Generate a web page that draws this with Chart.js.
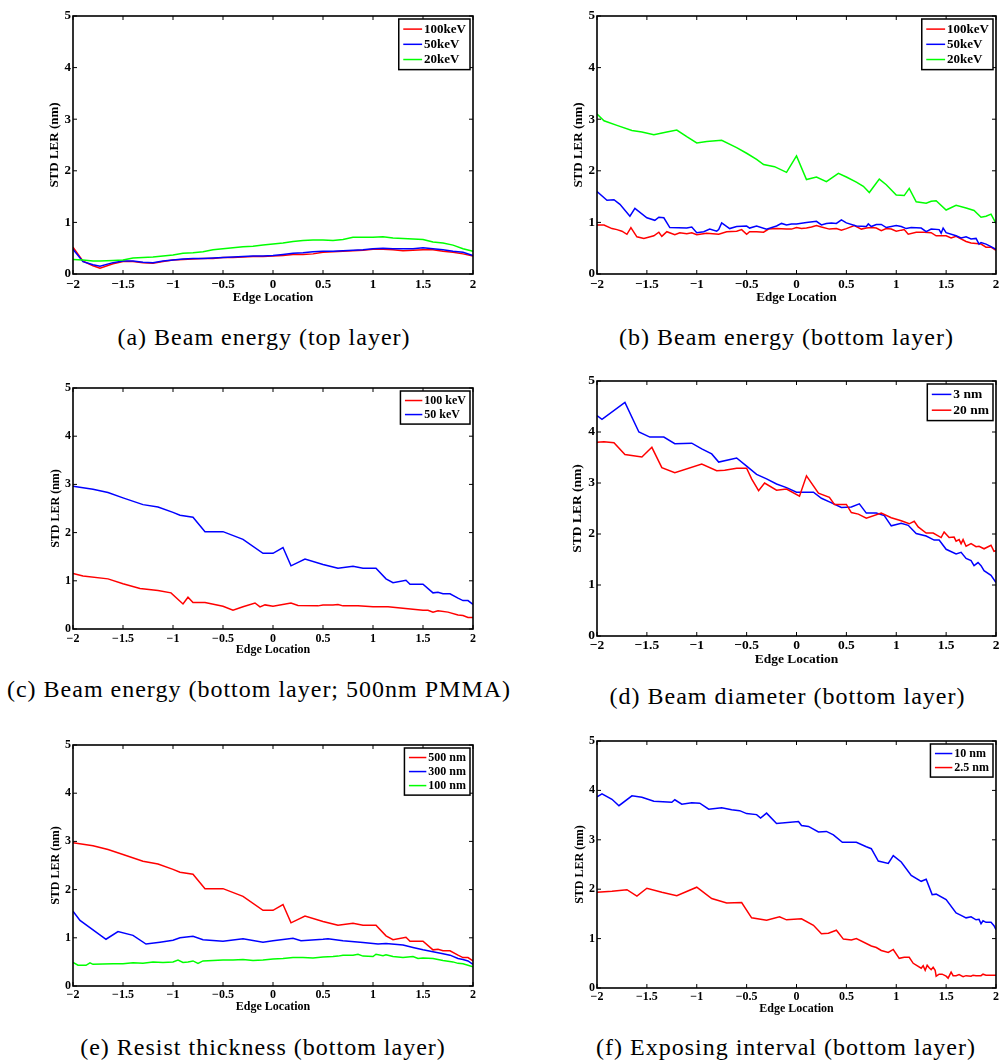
<!DOCTYPE html>
<html><head><meta charset="utf-8">
<script src="https://cdn.jsdelivr.net/npm/chart.js@4.4.1/dist/chart.umd.min.js"></script>
<style>
html,body{margin:0;padding:0;background:#fff;width:999px;height:1063px;overflow:hidden;}
#root{position:relative;width:999px;height:1063px;overflow:hidden;}
canvas{position:absolute;}
.cap{position:absolute;font-family:'Liberation Serif','DejaVu Serif';font-size:24px;line-height:24px;letter-spacing:1px;white-space:nowrap;color:#000;transform:translateX(-50%);}
</style></head><body>
<div id="root"></div>
<script>
// ---------- DATA ----------
// (a) Beam energy (top layer)
const aX = [-2,-1.9,-1.8,-1.73,-1.6,-1.5,-1.4,-1.3,-1.2,-1.1,-1,-0.9,-0.8,-0.7,-0.6,-0.5,-0.4,-0.3,-0.2,-0.1,0,0.1,0.2,0.3,0.4,0.5,0.6,0.7,0.8,0.9,1,1.1,1.2,1.3,1.4,1.5,1.6,1.7,1.8,1.9,2];
const aRed   = [0.52,0.25,0.16,0.11,0.20,0.24,0.24,0.22,0.21,0.24,0.27,0.28,0.29,0.30,0.30,0.32,0.32,0.33,0.34,0.34,0.35,0.36,0.38,0.38,0.39,0.42,0.43,0.44,0.45,0.46,0.48,0.48,0.47,0.45,0.46,0.47,0.47,0.44,0.42,0.39,0.35];
const aBlue  = [0.48,0.24,0.18,0.15,0.22,0.25,0.25,0.23,0.22,0.25,0.27,0.29,0.30,0.30,0.31,0.32,0.33,0.34,0.35,0.35,0.36,0.38,0.40,0.41,0.43,0.44,0.44,0.45,0.46,0.47,0.49,0.50,0.49,0.49,0.49,0.51,0.49,0.47,0.44,0.42,0.36];
const aGreen = [0.28,0.27,0.25,0.25,0.26,0.27,0.31,0.32,0.33,0.35,0.37,0.40,0.41,0.43,0.47,0.49,0.51,0.53,0.54,0.56,0.58,0.60,0.63,0.65,0.66,0.66,0.65,0.67,0.71,0.71,0.71,0.72,0.70,0.69,0.68,0.67,0.62,0.60,0.56,0.49,0.44];

// (b) Beam energy (bottom layer)
const bGreenX = [-2,-1.93,-1.8,-1.65,-1.55,-1.43,-1.3,-1.2,-1.1,-1,-0.9,-0.75,-0.6,-0.5,-0.4,-0.33,-0.22,-0.1,0,0.1,0.2,0.3,0.42,0.5,0.6,0.67,0.73,0.83,0.9,1,1.08,1.13,1.2,1.3,1.35,1.4,1.5,1.6,1.7,1.78,1.85,1.9,1.95,2];
const bGreen  = [3.10,2.97,2.88,2.78,2.75,2.70,2.75,2.79,2.66,2.54,2.57,2.59,2.45,2.34,2.22,2.12,2.08,1.97,2.29,1.83,1.88,1.79,1.95,1.88,1.78,1.70,1.58,1.84,1.73,1.53,1.52,1.66,1.40,1.37,1.41,1.42,1.24,1.33,1.28,1.23,1.10,1.12,1.16,0.98];
const bBlueX = [-2,-1.9,-1.83,-1.77,-1.67,-1.62,-1.5,-1.42,-1.38,-1.33,-1.27,-1.1,-1.05,-1,-0.93,-0.87,-0.8,-0.78,-0.75,-0.67,-0.6,-0.5,-0.47,-0.4,-0.3,-0.2,-0.15,-0.1,-0.05,0,0.1,0.2,0.25,0.3,0.35,0.4,0.45,0.5,0.6,0.7,0.72,0.75,0.8,0.85,0.9,1,1.05,1.1,1.15,1.25,1.3,1.35,1.43,1.45,1.47,1.5,1.6,1.65,1.7,1.75,1.8,1.83,1.85,1.9,1.95,2];
const bBlue  = [1.60,1.43,1.44,1.35,1.12,1.27,1.09,1.04,1.10,1.09,0.90,0.89,0.91,0.80,0.82,0.87,0.83,0.86,0.99,0.88,0.92,0.93,0.89,0.93,0.87,0.93,0.98,0.95,0.97,0.97,1.00,1.02,0.95,0.98,0.99,0.98,1.05,0.99,0.93,0.92,0.97,0.92,0.96,0.96,0.90,0.94,0.92,0.88,0.90,0.89,0.82,0.87,0.86,0.79,0.89,0.80,0.74,0.70,0.72,0.68,0.69,0.58,0.61,0.58,0.53,0.48];
const bRedX = [-2,-1.93,-1.85,-1.8,-1.75,-1.7,-1.66,-1.6,-1.53,-1.43,-1.38,-1.35,-1.3,-1.22,-1.17,-1.1,-1.05,-1,-0.9,-0.78,-0.7,-0.6,-0.55,-0.5,-0.47,-0.4,-0.33,-0.28,-0.2,-0.1,-0.05,0,0.05,0.1,0.15,0.2,0.25,0.33,0.4,0.45,0.5,0.58,0.65,0.7,0.75,0.8,0.85,0.9,0.95,1,1.05,1.08,1.12,1.2,1.28,1.35,1.4,1.5,1.55,1.6,1.7,1.75,1.8,1.85,1.9,1.95,2];
const bRed  = [0.95,0.95,0.88,0.86,0.83,0.77,0.90,0.72,0.69,0.74,0.81,0.73,0.82,0.76,0.80,0.78,0.80,0.76,0.79,0.77,0.82,0.83,0.86,0.77,0.82,0.82,0.81,0.87,0.88,0.87,0.87,0.90,0.88,0.89,0.91,0.94,0.91,0.87,0.88,0.85,0.88,0.94,0.87,0.89,0.90,0.89,0.84,0.88,0.87,0.83,0.85,0.86,0.77,0.81,0.81,0.80,0.74,0.74,0.70,0.73,0.63,0.60,0.59,0.58,0.52,0.52,0.46];

// (c) Beam energy (bottom layer; 500nm PMMA)
const cRedX = [-2,-1.9,-1.65,-1.5,-1.33,-1.15,-1.02,-0.9,-0.85,-0.8,-0.68,-0.5,-0.4,-0.3,-0.18,-0.13,-0.08,0,0.18,0.25,0.45,0.5,0.6,0.65,0.7,0.85,1,1.15,1.3,1.4,1.5,1.55,1.6,1.65,1.75,1.85,1.9,1.95,2];
const cRed  = [1.15,1.10,1.04,0.94,0.84,0.80,0.75,0.52,0.66,0.55,0.55,0.47,0.39,0.46,0.54,0.46,0.50,0.47,0.54,0.49,0.48,0.50,0.50,0.51,0.48,0.48,0.46,0.46,0.43,0.41,0.39,0.39,0.35,0.38,0.35,0.29,0.28,0.24,0.24];
const cBlueX = [-2,-1.8,-1.65,-1.5,-1.3,-1.15,-1,-0.93,-0.8,-0.68,-0.5,-0.3,-0.1,0,0.1,0.18,0.32,0.5,0.65,0.8,0.9,1.03,1.13,1.2,1.33,1.37,1.5,1.6,1.65,1.7,1.77,1.85,1.9,1.95,2];
const cBlue  = [2.96,2.90,2.83,2.72,2.58,2.53,2.42,2.36,2.32,2.02,2.02,1.86,1.57,1.57,1.69,1.31,1.45,1.34,1.26,1.30,1.26,1.26,1.04,0.96,1.01,0.93,0.93,0.75,0.76,0.73,0.73,0.64,0.59,0.59,0.51];

// (d) Beam diameter (bottom layer)
const dBlueX = [-2,-1.95,-1.72,-1.58,-1.47,-1.33,-1.22,-1.05,-0.95,-0.85,-0.78,-0.6,-0.5,-0.4,-0.3,-0.2,-0.1,0,0.17,0.25,0.33,0.45,0.55,0.63,0.7,0.8,0.88,0.95,1.05,1.12,1.2,1.3,1.38,1.43,1.5,1.6,1.65,1.7,1.75,1.78,1.82,1.85,1.88,1.95,2];
const dBlue  = [4.32,4.25,4.58,4.00,3.90,3.90,3.77,3.78,3.67,3.57,3.41,3.49,3.33,3.17,3.08,2.98,2.91,2.82,2.82,2.70,2.63,2.52,2.53,2.59,2.41,2.41,2.36,2.16,2.21,2.17,2.01,1.96,1.88,1.88,1.70,1.61,1.64,1.52,1.48,1.38,1.44,1.38,1.28,1.19,1.05];
const dRedX = [-2,-1.93,-1.83,-1.72,-1.55,-1.45,-1.35,-1.22,-0.95,-0.8,-0.72,-0.6,-0.5,-0.45,-0.38,-0.32,-0.2,-0.1,0.03,0.1,0.22,0.33,0.38,0.5,0.55,0.62,0.7,0.85,0.95,1.05,1.13,1.18,1.22,1.3,1.37,1.45,1.48,1.53,1.58,1.6,1.63,1.65,1.67,1.7,1.75,1.8,1.83,1.88,1.95,1.98,2];
const dRed  = [3.80,3.81,3.79,3.56,3.51,3.70,3.30,3.20,3.37,3.24,3.25,3.29,3.29,3.08,2.85,3.00,2.86,2.88,2.74,3.14,2.80,2.72,2.58,2.58,2.42,2.39,2.31,2.41,2.32,2.26,2.20,2.25,2.14,2.02,2.02,1.93,2.04,1.93,1.94,1.86,1.89,1.81,1.89,1.76,1.81,1.75,1.76,1.71,1.78,1.66,1.67];

// (e) Resist thickness (bottom layer)
const eRedX = [-2,-1.8,-1.65,-1.5,-1.3,-1.15,-1,-0.93,-0.8,-0.68,-0.5,-0.3,-0.1,0,0.1,0.18,0.32,0.5,0.65,0.8,0.9,1.03,1.13,1.2,1.33,1.37,1.5,1.6,1.65,1.7,1.77,1.85,1.9,1.95,2];
const eRed  = [2.97,2.91,2.83,2.73,2.59,2.53,2.42,2.36,2.32,2.02,2.02,1.86,1.57,1.57,1.69,1.31,1.45,1.34,1.26,1.30,1.26,1.26,1.04,0.96,1.01,0.93,0.93,0.75,0.76,0.73,0.73,0.64,0.59,0.59,0.52];
const eBlueX = [-2,-1.93,-1.67,-1.55,-1.4,-1.27,-1.13,-1,-0.93,-0.8,-0.7,-0.5,-0.3,-0.1,0,0.2,0.28,0.5,0.55,0.7,0.9,1.05,1.13,1.3,1.4,1.5,1.6,1.7,1.77,1.85,1.9,1.95,2];
const eBlue  = [1.55,1.36,0.97,1.13,1.05,0.87,0.91,0.95,1.00,1.03,0.96,0.93,0.98,0.91,0.94,0.99,0.94,0.97,0.98,0.94,0.90,0.87,0.88,0.85,0.80,0.75,0.71,0.67,0.64,0.57,0.55,0.52,0.45];
const eGreenX = [-2,-1.95,-1.87,-1.83,-1.8,-1.6,-1.5,-1.4,-1.3,-1.2,-1.1,-1,-0.95,-0.9,-0.85,-0.8,-0.75,-0.7,-0.5,-0.4,-0.3,-0.2,-0.1,0,0.1,0.2,0.3,0.4,0.5,0.6,0.65,0.7,0.8,0.85,0.9,1,1.03,1.1,1.13,1.2,1.3,1.4,1.45,1.5,1.6,1.7,1.8,1.85,1.9,2];
const eGreen  = [0.49,0.43,0.43,0.48,0.45,0.46,0.46,0.48,0.47,0.50,0.49,0.50,0.54,0.49,0.50,0.52,0.47,0.52,0.54,0.54,0.55,0.53,0.54,0.56,0.57,0.59,0.59,0.58,0.60,0.61,0.62,0.64,0.64,0.66,0.62,0.61,0.66,0.63,0.65,0.61,0.59,0.61,0.57,0.58,0.57,0.53,0.50,0.47,0.46,0.40];

// (f) Exposing interval (bottom layer)
const fBlueX = [-2,-1.95,-1.85,-1.78,-1.65,-1.55,-1.43,-1.25,-1.22,-1.15,-1.05,-0.97,-0.88,-0.75,-0.65,-0.57,-0.5,-0.4,-0.36,-0.3,-0.2,0.02,0.05,0.12,0.22,0.3,0.37,0.46,0.6,0.7,0.75,0.82,0.92,0.97,1.05,1.15,1.25,1.3,1.36,1.4,1.5,1.6,1.65,1.7,1.75,1.8,1.83,1.85,1.87,1.9,1.95,1.98,2];
const fBlue  = [3.87,3.93,3.82,3.69,3.89,3.86,3.78,3.76,3.81,3.72,3.75,3.74,3.62,3.65,3.61,3.59,3.53,3.51,3.44,3.54,3.33,3.37,3.29,3.27,3.16,3.17,3.10,2.95,2.95,2.86,2.82,2.57,2.52,2.68,2.55,2.28,2.16,2.20,1.89,1.90,1.79,1.52,1.47,1.42,1.44,1.38,1.39,1.30,1.36,1.33,1.33,1.26,1.18];
const fRedX = [-2,-1.85,-1.7,-1.6,-1.5,-1.35,-1.2,-1,-0.85,-0.7,-0.55,-0.45,-0.3,-0.17,-0.1,0.05,0.17,0.25,0.32,0.4,0.47,0.55,0.6,0.75,0.8,0.85,0.92,0.97,1.03,1.08,1.13,1.17,1.25,1.27,1.29,1.31,1.33,1.35,1.37,1.39,1.4,1.43,1.46,1.5,1.52,1.55,1.57,1.6,1.63,1.67,1.7,1.75,1.77,1.8,1.85,1.87,1.9,1.95,2];
const fRed  = [1.94,1.96,1.99,1.86,2.02,1.94,1.87,2.04,1.81,1.72,1.73,1.42,1.37,1.44,1.38,1.40,1.27,1.10,1.11,1.17,0.99,0.97,1.00,0.85,0.82,0.76,0.72,0.78,0.60,0.62,0.62,0.50,0.40,0.45,0.36,0.46,0.41,0.37,0.42,0.36,0.24,0.28,0.28,0.24,0.20,0.32,0.25,0.25,0.27,0.23,0.25,0.24,0.26,0.25,0.25,0.28,0.26,0.26,0.26];

const xTickValues = [-2,-1.5,-1,-0.5,0,0.5,1,1.5,2];
const yTickValues = [0,1,2,3,4,5];
const xTitle = 'Edge Location';
const yTitle = 'STD LER (nm)';

// ---------- LAYOUT ----------
const RED='#ff0000', BLUE='#0000ff', GREEN='#00ff00';
const FAMILY = "'Liberation Serif', 'DejaVu Serif', serif";
const panels = [
  {L:73,T:16,R:473,B:274,fs:13,yT:18.3,xTk:10.5,xT:23.2,cap:'(a) Beam energy (top layer)',cx:264,cb:345,
   series:[['100keV',RED,aX,aRed],['50keV',BLUE,aX,aBlue],['20keV',GREEN,aX,aGreen]]},
  {L:597,T:16,R:996,B:274,fs:13,yT:18.7,xTk:10.5,xT:23.2,cap:'(b) Beam energy (bottom layer)',cx:786.5,cb:345,
   series:[['100keV',RED,bRedX,bRed],['50keV',BLUE,bBlueX,bBlue],['20keV',GREEN,bGreenX,bGreen]]},
  {L:73,T:388,R:473,B:629,fs:12,yT:16.6,xTk:10.3,xT:21.3,cap:'(c) Beam energy (bottom layer; 500nm PMMA)',cx:259,cb:696.5,
   series:[['100 keV',RED,cRedX,cRed],['50 keV',BLUE,cBlueX,cBlue]]},
  {L:597,T:381,R:996,B:636,fs:13.5,yT:19,xTk:10,xT:23.6,cap:'(d) Beam diameter (bottom layer)',cx:787.5,cb:704,
   series:[['3 nm',BLUE,dBlueX,dBlue],['20 nm',RED,dRedX,dRed]]},
  {L:73,T:745,R:473,B:986,fs:12,yT:16.6,xTk:9.3,xT:21,cap:'(e) Resist thickness (bottom layer)',cx:263,cb:1055,
   series:[['500 nm',RED,eRedX,eRed],['300 nm',BLUE,eBlueX,eBlue],['100 nm',GREEN,eGreenX,eGreen]]},
  {L:597,T:741,R:996,B:988,fs:12,yT:16.7,xTk:9.4,xT:21,cap:'(f) Exposing interval (bottom layer)',cx:786,cb:1055,
   series:[['10 nm',BLUE,fBlueX,fBlue],['2.5 nm',RED,fRedX,fRed]]}
];

const fmt = v => (v < 0 ? '\u2212' : '') + String(Math.abs(Math.round(v*100)/100));

const framePlugin = {
  id: 'frame',
  afterDatasetsDraw(chart) {
    const {ctx, chartArea: a} = chart;
    const x = chart.scales.x, y = chart.scales.y;
    ctx.save();
    ctx.strokeStyle = '#000';
    ctx.lineWidth = 1;
    ctx.beginPath();
    x.ticks.forEach(t => {
      const px = x.getPixelForValue(t.value);
      ctx.moveTo(px, a.bottom); ctx.lineTo(px, a.bottom - 4);
      ctx.moveTo(px, a.top); ctx.lineTo(px, a.top + 4);
    });
    y.ticks.forEach(t => {
      const py = y.getPixelForValue(t.value);
      ctx.moveTo(a.left, py); ctx.lineTo(a.left + 4, py);
      ctx.moveTo(a.right, py); ctx.lineTo(a.right - 4, py);
    });
    ctx.stroke();
    ctx.lineWidth = 1.6;
    ctx.strokeRect(a.left, a.top, a.right - a.left, a.bottom - a.top);
    ctx.restore();
  }
};

const boxLegend = {
  id: 'boxLegend',
  afterDraw(chart, args, opts) {
    const {ctx, chartArea: a} = chart;
    const fs = opts.fs;
    const ds = chart.data.datasets;
    ctx.save();
    ctx.font = 'bold ' + fs + 'px ' + FAMILY;
    const tw = Math.max(...ds.map(d => ctx.measureText(d.label).width));
    const lineLen = fs * 1.45, padL = 4.5, gap = 2, padR = 4;
    const rowH = fs * 1.17, padV = 2.5;
    const w = padL + lineLen + gap + tw + padR;
    const h = ds.length * rowH + padV * 2;
    const right = a.right - 3, top = a.top + 3;
    const left = right - w;
    ctx.fillStyle = '#fff';
    ctx.fillRect(left, top, w, h);
    ds.forEach((d, i) => {
      const cy = top + padV + rowH * (i + 0.5);
      ctx.strokeStyle = d.borderColor; ctx.lineWidth = 1.5;
      ctx.beginPath(); ctx.moveTo(left + padL, cy); ctx.lineTo(left + padL + lineLen, cy); ctx.stroke();
      ctx.fillStyle = '#000'; ctx.textAlign = 'left'; ctx.textBaseline = 'middle';
      ctx.fillText(d.label, left + padL + lineLen + gap, cy + 0.5);
    });
    ctx.strokeStyle = '#000'; ctx.lineWidth = 1.5;
    ctx.strokeRect(left, top, w, h);
    ctx.restore();
  }
};

const root = document.getElementById('root');
const OL = 32, OT = 12, OR = 14, OB = 36;

panels.forEach(p => {
  const lh = p.fs * 1.2;
  const YW = p.yT + lh / 2;
  const XH = p.xT + lh / 2;
  const cv = document.createElement('canvas');
  const W = (p.R - p.L) + OL + OR, H = (p.B - p.T) + OT + OB;
  cv.width = W; cv.height = H;
  cv.style.left = (p.L - OL) + 'px'; cv.style.top = (p.T - OT) + 'px';
  cv.style.width = W + 'px'; cv.style.height = H + 'px';
  root.appendChild(cv);

  const cap = document.createElement('div');
  cap.className = 'cap';
  cap.textContent = p.cap;
  cap.style.left = p.cx + 'px';
  cap.style.top = (p.cb - 20) + 'px';
  root.appendChild(cap);

  const font = {family: FAMILY, size: p.fs, weight: 'bold', lineHeight: 1.2};
  const n = p.series.length;
  new Chart(cv, {
    type: 'line',
    data: {
      datasets: p.series.map((s, i) => ({
        label: s[0],
        data: s[2].map((xv, k) => ({x: xv, y: s[3][k]})),
        borderColor: s[1], backgroundColor: s[1],
        borderWidth: 1.5, pointRadius: 0, tension: 0, fill: false,
        order: n - i
      }))
    },
    options: {
      responsive: false, animation: false, devicePixelRatio: 1,
      layout: {padding: {left: OL - YW, top: OT, right: OR, bottom: OB - XH}},
      plugins: {legend: {display: false}, tooltip: {enabled: false}, boxLegend: {fs: p.fs}},
      scales: {
        x: {
          type: 'linear', min: -2, max: 2,
          afterBuildTicks: s => { s.ticks = xTickValues.map(v => ({value: v})); },
          afterFit: s => { s.height = XH; s.paddingLeft = 0; s.paddingRight = 0; s.paddingTop = 0; s.paddingBottom = 0; },
          grid: {display: false, drawTicks: false},
          border: {display: false},
          ticks: {autoSkip: false, maxRotation: 0, padding: p.xTk - lh / 2, color: '#000', font, callback: v => fmt(v)},
          title: {display: true, text: xTitle, color: '#000', font, padding: 0}
        },
        y: {
          type: 'linear', min: 0, max: 5,
          afterBuildTicks: s => { s.ticks = yTickValues.map(v => ({value: v})); },
          afterFit: s => { s.width = YW; s.paddingLeft = 0; s.paddingRight = 0; s.paddingTop = 0; s.paddingBottom = 0; },
          grid: {display: false, drawTicks: false},
          border: {display: false},
          ticks: {autoSkip: false, padding: 2, color: '#000', font, callback: v => fmt(v)},
          title: {display: true, text: yTitle, color: '#000', font, padding: 0}
        }
      }
    },
    plugins: [framePlugin, boxLegend]
  });
});
</script>
</body></html>
